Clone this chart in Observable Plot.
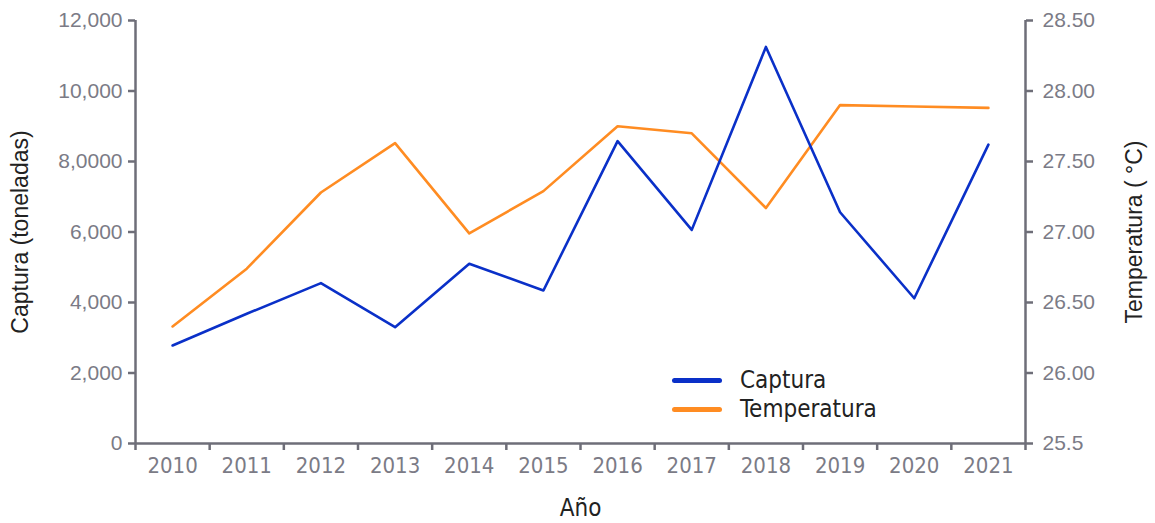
<!DOCTYPE html>
<html>
<head>
<meta charset="utf-8">
<script src="https://cdn.jsdelivr.net/npm/d3@7"></script>
<script src="https://cdn.jsdelivr.net/npm/@observablehq/plot@0.6"></script>
<style>
  html, body { margin: 0; padding: 0; background: #fff; }
  #wrap { position: relative; width: 1155px; height: 523px; }
  #wrap svg { font-family: "Liberation Sans", Arial, sans-serif; }
  #wrap svg [aria-label="y-axis label"] text,
  #wrap svg [aria-label="y-axis label"] { fill: #222; font-size: 23px; }
  #wrap svg [aria-label="x-axis label"] text,
  #wrap svg [aria-label="x-axis label"] { fill: #222; font-size: 24px; font-family: "Liberation Sans Narrow", "DejaVu Sans Condensed", sans-serif; }
  .legend { position: absolute; left: 672px; top: 366px; font-family: "Liberation Sans Narrow", "DejaVu Sans Condensed", sans-serif; font-size: 24px; color: #222; line-height: 29px; }
  .legend div { display: flex; align-items: center; }
  .legend span.sw { display: inline-block; width: 50px; height: 5px; border-radius: 3px; margin-right: 18px; }
</style>
</head>
<body>
<div id="wrap"></div>
<script>
const years = [2010, 2011, 2012, 2013, 2014, 2015, 2016, 2017, 2018, 2019, 2020, 2021];
const captura = [2780, 3680, 4550, 3300, 5100, 4340, 8580, 6060, 11250, 6560, 4120, 8480];
const temperatura = [26.33, 26.74, 27.28, 27.63, 26.99, 27.29, 27.75, 27.70, 27.17, 27.90, 27.89, 27.88];
const capTicks = [0, 2000, 4000, 6000, 8000, 10000, 12000];
const capLabels = ["0", "2,000", "4,000", "6,000", "8,0000", "10,000", "12,000"];
const tempTicks = [25.5, 26.0, 26.5, 27.0, 27.5, 28.0, 28.5];
const tempLabels = ["25.5", "26.00", "26.50", "27.00", "27.50", "28.00", "28.50"];
const seriesNames = ["Captura", "Temperatura"];
const colors = ["#0a30c8", "#ff8c22"];

const tMin = 25.5, tMax = 28.5, cMax = 12000;
const t2c = t => (t - tMin) / (tMax - tMin) * cMax;

const capData = years.map((y, i) => ({year: y, value: captura[i]}));
const tempData = years.map((y, i) => ({year: y, value: t2c(temperatura[i])}));
const bounds = years.map(y => y - 0.5).concat([years[years.length - 1] + 0.5]);

const axisColor = "#6e6e78";
const tickColor = "#7b7b86";

const chart = Plot.plot({
  width: 1155,
  height: 523,
  marginLeft: 135,
  marginRight: 130,
  marginTop: 20,
  marginBottom: 80,
  style: {fontSize: "21px", background: "#fff"},
  x: {type: "linear", domain: [bounds[0], bounds[bounds.length - 1]]},
  y: {domain: [0, cMax]},
  marks: [
    Plot.axisY({ticks: capTicks, tickFormat: (d) => capLabels[capTicks.indexOf(d)], tickSize: 7, tickPadding: 6,
      stroke: axisColor, strokeWidth: 2.5, fill: tickColor,
      label: "Captura (toneladas)", labelAnchor: "center", labelArrow: "none", labelOffset: 124}),
    Plot.axisY({anchor: "right", ticks: tempTicks.map(t2c), tickFormat: (d) => tempLabels[tempTicks.map(t2c).indexOf(d)],
      tickSize: 7, tickPadding: 10, stroke: axisColor, strokeWidth: 2.5, fill: tickColor,
      label: "Temperatura ( °C)", labelAnchor: "center", labelArrow: "none", labelOffset: 116}),
    Plot.axisX({ticks: bounds, tickFormat: () => "", tickSize: 7, stroke: axisColor, strokeWidth: 2.5, label: null}),
    Plot.axisX({ticks: years, tickFormat: d => String(d), tickSize: 0, tickPadding: 14, fill: tickColor,
      fontFamily: "Liberation Sans Narrow, DejaVu Sans Condensed, sans-serif", fontSize: 22,
      label: "Año", labelAnchor: "center", labelArrow: "none", labelOffset: 72}),
    Plot.ruleX([bounds[0], bounds[bounds.length - 1]], {stroke: axisColor, strokeWidth: 2.5}),
    Plot.ruleY([0], {stroke: axisColor, strokeWidth: 2.5}),
    Plot.line(tempData, {x: "year", y: "value", stroke: colors[1], strokeWidth: 2.6}),
    Plot.line(capData, {x: "year", y: "value", stroke: colors[0], strokeWidth: 2.6})
  ]
});
const wrap = document.getElementById("wrap");
wrap.appendChild(chart);

const legend = document.createElement("div");
legend.className = "legend";
seriesNames.forEach((n, i) => {
  const row = document.createElement("div");
  const sw = document.createElement("span");
  sw.className = "sw";
  sw.style.background = colors[i];
  row.appendChild(sw);
  row.appendChild(document.createTextNode(n));
  legend.appendChild(row);
});
wrap.appendChild(legend);
</script>
</body>
</html>
